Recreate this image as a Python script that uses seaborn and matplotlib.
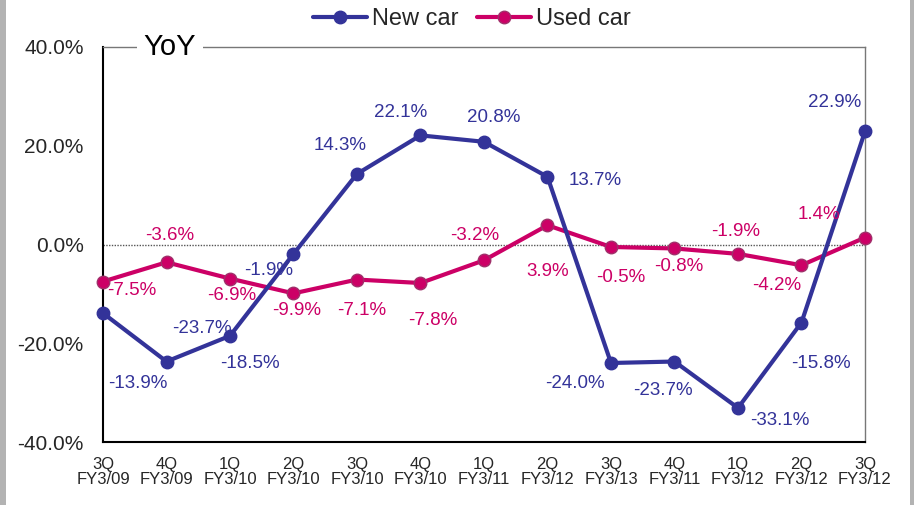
import numpy as np
import pandas as pd
import matplotlib
matplotlib.use("Agg")
import matplotlib.pyplot as plt
from matplotlib.lines import Line2D
from matplotlib.patches import Rectangle
import seaborn as sns

quarters = ["3Q", "4Q", "1Q", "2Q", "3Q", "4Q", "1Q", "2Q", "3Q", "4Q", "1Q", "2Q", "3Q"]
fiscal_years = ["FY3/09", "FY3/09", "FY3/10", "FY3/10", "FY3/10", "FY3/10", "FY3/11",
                "FY3/12", "FY3/13", "FY3/11", "FY3/12", "FY3/12", "FY3/12"]
new_car = [-13.9, -23.7, -18.5, -1.9, 14.3, 22.1, 20.8, 13.7, -24.0, -23.7, -33.1, -15.8, 22.9]
used_car = [-7.5, -3.6, -6.9, -9.9, -7.1, -7.8, -3.2, 3.9, -0.5, -0.8, -1.9, -4.2, 1.4]
y_ticks = [-40, -20, 0, 20, 40]

# label offsets in pixels (dx, dy), screen-down positive for dy
new_offsets = [(35, 70), (35, -33), (20, 28), (-25, 17), (-17, -28), (-20, -23), (10, -24),
               (48, 4), (-36, 20), (-12, 29), (42, 13), (19, 41), (-30, -29)]
used_offsets = [(29, 9), (3, -27), (2, 17), (3, 17), (5, 31), (12, 37), (-9, -25),
                (0, 46), (10, 31), (4, 18), (-2, -22), (-25, 20), (-46, -23)]

NEW_C = "#333399"
USED_C = "#cc0066"

sns.set_theme(style="white")
plt.rcParams["font.family"] = ["Liberation Sans", "DejaVu Sans"]

idx = np.arange(len(quarters))
df = pd.DataFrame({"idx": idx, "New car": new_car, "Used car": used_car})

fig = plt.figure(figsize=(9.14, 5.05), dpi=100)
ax = fig.add_axes([103 / 914, 63 / 505, 762 / 914, 395 / 505])

ax.axhline(0, color="#555555", lw=1.0, ls=(0, (1, 1)), zorder=1)

sns.lineplot(data=df, x="idx", y="Used car", ax=ax, color=USED_C, lw=3.0,
             marker="o", markersize=9, markeredgecolor="#a0306a", markeredgewidth=1.0,
             zorder=3, clip_on=False)
sns.lineplot(data=df, x="idx", y="New car", ax=ax, color=NEW_C, lw=3.0,
             marker="o", markersize=9, markeredgecolor=NEW_C, markeredgewidth=1.0,
             zorder=4, clip_on=False)

for i, (v, (dx, dy)) in enumerate(zip(new_car, new_offsets)):
    ax.annotate(f"{v:.1f}%", (i, v), xytext=(dx * 0.72, -dy * 0.72), textcoords="offset points",
                ha="center", va="center", color=NEW_C, fontsize=13.5, zorder=5)
for i, (v, (dx, dy)) in enumerate(zip(used_car, used_offsets)):
    ax.annotate(f"{v:.1f}%", (i, v), xytext=(dx * 0.72, -dy * 0.72), textcoords="offset points",
                ha="center", va="center", color=USED_C, fontsize=13.5, zorder=5)

ax.set_xlim(0, len(quarters) - 1)
ax.set_ylim(-40, 40)
ax.set_xticks(idx)
ax.set_xticklabels([f"{q}\n{fy}" for q, fy in zip(quarters, fiscal_years)], fontsize=12,
                   linespacing=1.0)
ax.set_yticks(y_ticks)
ax.set_yticklabels([f"{t:.1f}%" for t in y_ticks], fontsize=15)
ax.tick_params(axis="x", direction="in", length=5, width=1, color="black", pad=11)
ax.tick_params(axis="y", direction="in", length=6, width=1, color="black", pad=14)
ax.set_xlabel("")
ax.set_ylabel("")

for side in ("left", "bottom"):
    ax.spines[side].set_color("black")
    ax.spines[side].set_linewidth(1.5)
for side in ("top", "right"):
    ax.spines[side].set_color("#777777")
    ax.spines[side].set_linewidth(1.0)

ax.text(0.088, 1.0, "YoY", transform=ax.transAxes, ha="center", va="center",
        fontsize=21, color="black", zorder=10,
        bbox=dict(facecolor="white", edgecolor="none", pad=5))

handles = [
    Line2D([], [], color=NEW_C, lw=3, marker="o", markersize=9, markeredgecolor=NEW_C),
    Line2D([], [], color=USED_C, lw=3, marker="o", markersize=9, markeredgecolor="#a0306a"),
]
fig.legend(handles, ["New car", "Used car"], loc="center", bbox_to_anchor=(0.516, 0.962),
           ncol=2, frameon=False, fontsize=17, handlelength=2.3, handletextpad=0.2,
           columnspacing=0.8)

# grey side strips framing the chart
fig.patches.append(Rectangle((0, 0), 6 / 914, 1, transform=fig.transFigure,
                             facecolor="#b3b3b3", edgecolor="none", zorder=0))
fig.patches.append(Rectangle((910 / 914, 0), 4 / 914, 1, transform=fig.transFigure,
                             facecolor="#b3b3b3", edgecolor="none", zorder=0))

fig.savefig("out.png", dpi=100)
